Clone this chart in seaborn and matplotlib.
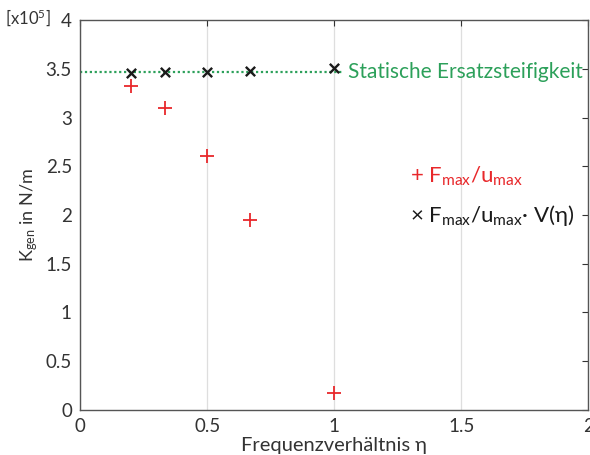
import matplotlib

matplotlib.use("Agg")

import matplotlib.pyplot as plt
import pandas as pd
import seaborn as sns

# Frequency ratios and stiffness values (in 1e5 N/m)
eta = [0.2, 0.333, 0.5, 0.667, 1.0]
k_fmax_umax = [3.32, 3.10, 2.61, 1.95, 0.17]
k_fmax_umax_v = [3.46, 3.47, 3.47, 3.48, 3.51]
k_static = 3.47

x_ticks = [0, 0.5, 1, 1.5, 2]
x_tick_labels = ["0", "0.5", "1", "1.5", "2"]
y_ticks = [0, 0.5, 1, 1.5, 2, 2.5, 3, 3.5, 4]
y_tick_labels = ["0", "0.5", "1", "1.5", "2", "2.5", "3", "3.5", "4"]

sns.set_style("white")
plt.rcParams["font.family"] = ["Lato", "DejaVu Sans"]
plt.rcParams["mathtext.fontset"] = "custom"
plt.rcParams["mathtext.rm"] = "Lato"
plt.rcParams["mathtext.it"] = "Lato"

df_red = pd.DataFrame({"eta": eta, "k": k_fmax_umax})
df_black = pd.DataFrame({"eta": eta, "k": k_fmax_umax_v})

fig = plt.figure(figsize=(5.9, 4.55), dpi=100)
ax = fig.add_axes([0.136, 0.099, 0.861, 0.857])

green = "#2ca05a"

# static replacement stiffness (dotted green)
ax.plot([0, 1.04], [k_static, k_static], color=green, linestyle=(0, (1, 1.2)),
        linewidth=1.6, zorder=2)

sns.scatterplot(data=df_red, x="eta", y="k", ax=ax, marker="+", color="#e8282b",
                s=100, linewidth=1.3, zorder=3)
sns.scatterplot(data=df_black, x="eta", y="k", ax=ax, marker="x", color="#1a1a1a",
                s=45, linewidth=1.7, zorder=3)

ax.set_xlim(0, 2)
ax.set_ylim(0, 4)
ax.set_xticks(x_ticks)
ax.set_xticklabels(x_tick_labels)
ax.set_yticks(y_ticks)
ax.set_yticklabels(y_tick_labels)
ax.tick_params(direction="in", length=4, labelsize=13.5, colors="#333333",
               top=True, right=True, pad=6)
ax.grid(axis="x", color="#dedede", linewidth=0.9)
ax.grid(axis="y", visible=False)
for sp in ax.spines.values():
    sp.set_color("#555555")
    sp.set_linewidth(1.0)

ax.set_xlabel("Frequenzverhältnis η", fontsize=14.5, color="#333333", labelpad=1)
ax.set_ylabel(r"K$_{\mathregular{gen}}$ in N/m", fontsize=13, color="#333333",
              labelpad=4)

fig.text(0.008, 0.962, r"[x10$^{\mathregular{5}}$]", fontsize=12, color="#333333",
         va="center", ha="left")

ax.text(1.055, k_static, "Statische Ersatzsteifigkeit", color=green, fontsize=15,
        va="center", ha="left", clip_on=True)

ax.text(1.3, 2.4, r"+ F$_{\mathregular{max}}$/u$_{\mathregular{max}}$",
        color="#e8282b", fontsize=16, va="center", ha="left")
ax.text(1.3, 1.99, r"× F$_{\mathregular{max}}$/u$_{\mathregular{max}}$· V(η)",
        color="#1a1a1a", fontsize=16, va="center", ha="left")

fig.savefig("out.png", dpi=100)
